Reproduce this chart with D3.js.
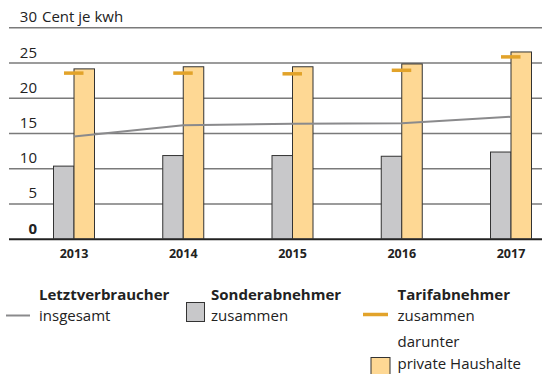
<!DOCTYPE html>
<html>
<head>
<meta charset="utf-8">
<script src="https://cdn.jsdelivr.net/npm/d3@7"></script>
<style>
  html, body { margin: 0; padding: 0; background: #fff; }
  svg { display: block; font-family: "Open Sans", sans-serif; }
</style>
</head>
<body>
<svg id="chart" width="542" height="374"></svg>
<script>
// Strompreise in Cent je kWh
const years = ["2013", "2014", "2015", "2016", "2017"];
const letztverbraucher = [14.5, 16.1, 16.3, 16.4, 17.3];   // insgesamt (Linie)
const sonderabnehmer = [10.3, 11.8, 11.8, 11.7, 12.3];     // zusammen (graue Säule)
const tarifabnehmer = [23.5, 23.5, 23.4, 23.9, 25.8];      // zusammen (Markierung)
const haushalte = [24.1, 24.4, 24.4, 24.8, 26.5];          // darunter private Haushalte
const yTicks = [0, 5, 10, 15, 20, 25, 30];
const unitLabel = "Cent je kwh";

const colGrey = "#c8c8ca";
const colOrange = "#fed894";
const colTick = "#e2a32a";
const colLine = "#8a8a8c";
const colGrid = "#7a7a7a";
const colText = "#222";

const svg = d3.select("#chart");

const x = d3.scalePoint().domain(years).range([74, 511]);
const y = d3.scaleLinear().domain([0, 30]).range([238.7, 27.3]);
const barW = 20.5;
const gridX0 = 9, gridX1 = 542;

// Gitterlinien und Beschriftung der y-Achse
const yAxis = d3.axisLeft(y).tickValues(yTicks).tickSize(0).tickFormat("");
const gAxis = svg.append("g").attr("transform", `translate(${gridX0},0)`).call(yAxis);
gAxis.select(".domain").remove();
gAxis.selectAll(".tick line")
  .attr("x2", gridX1 - gridX0)
  .attr("stroke", d => d === 0 ? "#222" : colGrid)
  .attr("stroke-width", d => d === 0 ? 2 : 1.5);

svg.append("g").selectAll("text")
  .data(yTicks)
  .join("text")
  .attr("x", 37)
  .attr("y", d => y(d) - 5)
  .attr("text-anchor", "end")
  .attr("font-size", 15)
  .attr("font-weight", d => d === 0 ? "bold" : "normal")
  .attr("fill", colText)
  .text(d => d);

svg.append("text")
  .attr("x", 42)
  .attr("y", y(30) - 5)
  .attr("font-size", 15)
  .attr("fill", colText)
  .text(unitLabel);

// Säulen
const bars = svg.append("g");
bars.selectAll("rect.sonder")
  .data(years)
  .join("rect")
  .attr("class", "sonder")
  .attr("x", d => x(d) - barW)
  .attr("width", barW)
  .attr("y", (d, i) => y(sonderabnehmer[i]))
  .attr("height", (d, i) => y(0) - y(sonderabnehmer[i]))
  .attr("fill", colGrey)
  .attr("stroke", "#333")
  .attr("stroke-width", 1);

bars.selectAll("rect.haushalt")
  .data(years)
  .join("rect")
  .attr("class", "haushalt")
  .attr("x", d => x(d))
  .attr("width", barW)
  .attr("y", (d, i) => y(haushalte[i]))
  .attr("height", (d, i) => y(0) - y(haushalte[i]))
  .attr("fill", colOrange)
  .attr("stroke", "#333")
  .attr("stroke-width", 1);

// Linie Letztverbraucher insgesamt
const line = d3.line()
  .x((d, i) => x(years[i]))
  .y(d => y(d));
svg.append("path")
  .datum(letztverbraucher)
  .attr("d", line)
  .attr("fill", "none")
  .attr("stroke", colLine)
  .attr("stroke-width", 2);

// Markierungen Tarifabnehmer
svg.append("g").selectAll("line")
  .data(years)
  .join("line")
  .attr("x1", d => x(d) - 10)
  .attr("x2", d => x(d) + 9.5)
  .attr("y1", (d, i) => y(tarifabnehmer[i]))
  .attr("y2", (d, i) => y(tarifabnehmer[i]))
  .attr("stroke", colTick)
  .attr("stroke-width", 3.5);

// x-Achse
svg.append("g").selectAll("text")
  .data(years)
  .join("text")
  .attr("x", d => x(d))
  .attr("y", 258)
  .attr("text-anchor", "middle")
  .attr("font-size", 12.5)
  .attr("font-weight", "bold")
  .attr("fill", colText)
  .text(d => d);

// Legende
const leg = svg.append("g").attr("font-size", 15).attr("fill", colText);
const legText = (tx, ty, t, bold) => leg.append("text")
  .attr("x", tx).attr("y", ty)
  .attr("font-weight", bold ? "bold" : "normal")
  .text(t);

legText(39, 300, "Letztverbraucher", true);
legText(39, 320.5, "insgesamt", false);
leg.append("line").attr("x1", 6).attr("x2", 30).attr("y1", 315.5).attr("y2", 315.5)
  .attr("stroke", colLine).attr("stroke-width", 2);

legText(211, 300, "Sonderabnehmer", true);
legText(211, 320.5, "zusammen", false);
leg.append("rect").attr("x", 186.5).attr("y", 302.5).attr("width", 18).attr("height", 19)
  .attr("fill", colGrey).attr("stroke", "#333").attr("stroke-width", 1);

legText(397.5, 300, "Tarifabnehmer", true);
legText(397.5, 320.5, "zusammen", false);
leg.append("line").attr("x1", 363).attr("x2", 388).attr("y1", 314.5).attr("y2", 314.5)
  .attr("stroke", colTick).attr("stroke-width", 3.5);
legText(397.5, 347, "darunter", false);
legText(397.5, 369, "private Haushalte", false);
leg.append("rect").attr("x", 371).attr("y", 357.5).attr("width", 19).attr("height", 19)
  .attr("fill", colOrange).attr("stroke", "#333").attr("stroke-width", 1);
</script>
</body>
</html>
